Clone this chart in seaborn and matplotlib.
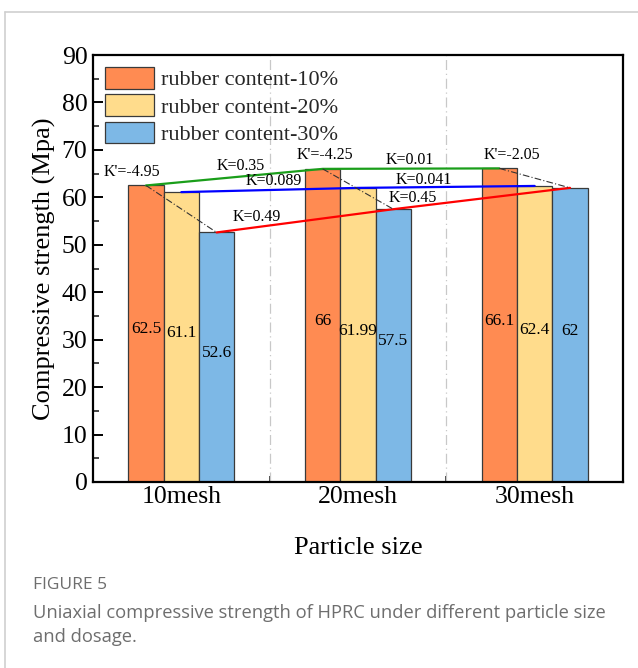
import matplotlib
matplotlib.use("Agg")
import matplotlib.pyplot as plt
from matplotlib.lines import Line2D
from matplotlib.ticker import MultipleLocator, FixedLocator
import seaborn as sns
import pandas as pd

# ---------------- data ----------------
categories = ["10mesh", "20mesh", "30mesh"]
series_names = ["rubber content-10%", "rubber content-20%", "rubber content-30%"]
values_10 = [62.5, 66.0, 66.1]
values_20 = [61.1, 61.99, 62.4]
values_30 = [52.6, 57.5, 62.0]
value_labels_10 = ["62.5", "66", "66.1"]
value_labels_20 = ["61.1", "61.99", "62.4"]
value_labels_30 = ["52.6", "57.5", "62"]
slope_texts = ["K'=-4.95", "K=0.35", "K=0.089", "K=0.49",
               "K'=-4.25", "K=0.01", "K=0.041", "K=0.45", "K'=-2.05"]
y_ticks = [0, 10, 20, 30, 40, 50, 60, 70, 80, 90]

# ---------------- style ----------------
sns.set_theme(style="white")
plt.rcParams["font.family"] = ["Liberation Serif", "DejaVu Serif"]
plt.rcParams["mathtext.fontset"] = "stix"

colors = ["#FF8B52", "#FFDC8C", "#7DB8E6"]
line_colors = ["#1A9E1A", "#0000FF", "#FF0000"]

df = pd.DataFrame({
    "cat": categories * 3,
    "series": [series_names[0]] * 3 + [series_names[1]] * 3 + [series_names[2]] * 3,
    "val": values_10 + values_20 + values_30,
})

fig = plt.figure(figsize=(6.38, 6.68), dpi=100)
ax = fig.add_axes([93 / 638, 1 - 482 / 668, 530 / 638, 427 / 668])

sns.barplot(data=df, x="cat", y="val", hue="series", order=categories,
            hue_order=series_names, palette=colors, width=0.6, dodge=True,
            edgecolor="#3a3a3a", linewidth=0.9, saturation=1, errorbar=None,
            ax=ax, zorder=2)

ax.set_xlim(-0.5, 2.5)
ax.set_ylim(0, 90)
ax.yaxis.set_major_locator(FixedLocator(y_ticks))
ax.yaxis.set_minor_locator(MultipleLocator(5))
ax.xaxis.set_minor_locator(FixedLocator([0.5, 1.5]))

for sp in ax.spines.values():
    sp.set_linewidth(1.6)
    sp.set_color("black")

ax.tick_params(axis="both", which="major", direction="in", length=7, width=1.4,
               labelsize=18.5, colors="black", pad=4)
ax.tick_params(axis="both", which="minor", direction="in", length=4, width=1.2)
ax.tick_params(axis="x", which="major", pad=3)
ax.tick_params(left=True, bottom=True, which="both")

ax.set_xlabel("Particle size", fontsize=19, labelpad=21, color="black")
ax.set_ylabel("Compressive strength (Mpa)", fontsize=19, labelpad=4, color="black")

# vertical dash-dot separators
for xv in [0.5, 1.5]:
    ax.axvline(xv, color="#c8c8c8", lw=0.9, ls=(0, (8, 3, 1, 3)), zorder=1)

# bar geometry from the library's patches
label_sets = [value_labels_10, value_labels_20, value_labels_30]
tops = []
for cont, labs in zip(ax.containers, label_sets):
    pts = []
    for patch, lab in zip(cont.patches, labs):
        cx = patch.get_x() + patch.get_width() / 2
        h = patch.get_height()
        pts.append((cx, h))
        ax.text(cx, h / 2 + 0.9, lab, ha="center", va="center", fontsize=12.5,
                color="black", zorder=5)
    tops.append(pts)

# trend lines across particle sizes (same rubber content)
for pts, lc in zip(tops, line_colors):
    ax.plot([p[0] for p in pts], [p[1] for p in pts], color=lc, lw=1.6, zorder=4)

# dash-dot lines within each particle size (10% -> 30%)
for i in range(3):
    ax.plot([tops[0][i][0], tops[2][i][0]], [tops[0][i][1], tops[2][i][1]],
            color="#333333", lw=0.8, ls=(0, (6, 2, 1, 2)), zorder=4)

# slope annotations
ann_pos = [(-0.28, 65.3), (0.338, 66.6), (0.524, 63.4), (0.428, 55.9),
           (0.813, 68.9), (1.294, 67.9), (1.373, 63.7), (1.311, 59.9),
           (1.871, 68.9)]
for t, (xp, yp) in zip(slope_texts, ann_pos):
    ax.text(xp, yp, t, ha="center", va="center", fontsize=11.5, color="black",
            zorder=6)

leg = ax.legend(loc="upper left", frameon=False, fontsize=16,
                handlelength=2.2, handleheight=1.1, labelspacing=0.18,
                handletextpad=0.3, borderaxespad=0.25, borderpad=0.3)
leg.set_title(None)

# page frame & caption
fig.add_artist(Line2D([5 / 638, 5 / 638], [0, 1 - 12 / 668], color="#cfcfcf", lw=1.2))
fig.add_artist(Line2D([5 / 638, 1], [1 - 12 / 668, 1 - 12 / 668], color="#cfcfcf", lw=1.2))
cap_font = ["Open Sans", "DejaVu Sans"]
fig.text(33 / 638, 1 - 585 / 668, "FIGURE 5", fontsize=12.5, color="#6e6e6e",
         family=cap_font, va="center", ha="left")
fig.text(33 / 638, 1 - 613 / 668,
         "Uniaxial compressive strength of HPRC under different particle size",
         fontsize=13.2, color="#6e6e6e", family=cap_font, va="center", ha="left")
fig.text(33 / 638, 1 - 637 / 668, "and dosage.", fontsize=13.2, color="#6e6e6e",
         family=cap_font, va="center", ha="left")

fig.savefig("out.png", dpi=100)
